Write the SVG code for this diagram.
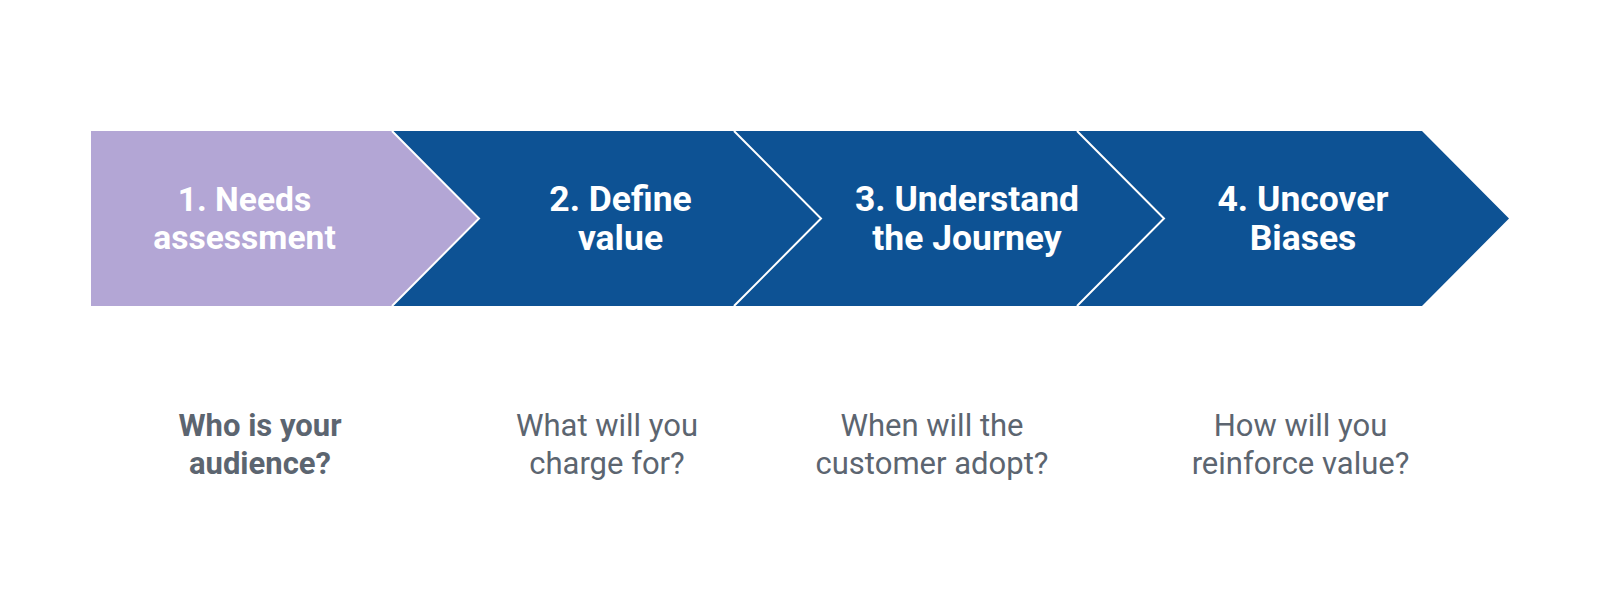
<svg xmlns="http://www.w3.org/2000/svg" width="1600" height="596" viewBox="0 0 1600 596">
<style>
.bg{fill:#ffffff}
.purple{fill:#B3A6D5}
.blue{fill:#0D5294}
.sep{fill:none;stroke:#ffffff;stroke-width:2}
.head{font-family:Roboto,"Liberation Sans",sans-serif;font-weight:bold;font-size:35.5px;fill:#ffffff;text-anchor:middle}
.head1{font-size:33.6px}
.sub{font-family:Roboto,"Liberation Sans",sans-serif;font-size:31px;fill:#5C6570;text-anchor:middle}
.subb{font-family:Roboto,"Liberation Sans",sans-serif;font-weight:bold;font-size:31px;fill:#5C6570;text-anchor:middle}
</style>
<rect class="bg" x="0" y="0" width="1600" height="596"/>
<g id="step4">
<polygon class="blue" points="1077,131 1422,131 1509,218.5 1422,306 1077,306 1164,218.5"/>
<text class="head" x="1303" y="211">4. Uncover</text>
<text class="head" x="1303" y="250">Biases</text>
</g>
<g id="step3">
<polygon class="blue" points="734,131 1077,131 1164,218.5 1077,306 734,306 821,218.5"/>
<text class="head" x="967" y="211">3. Understand</text>
<text class="head" x="967" y="250">the Journey</text>
</g>
<g id="step2">
<polygon class="blue" points="392,131 734,131 821,218.5 734,306 392,306 479,218.5"/>
<text class="head" x="620.5" y="211">2. Define</text>
<text class="head" x="620.5" y="250">value</text>
</g>
<g id="step1">
<polygon class="purple" points="91,131 392,131 479,218.5 392,306 91,306"/>
<text class="head head1" x="244.5" y="210.5">1. Needs</text>
<text class="head head1" x="244.5" y="249.3">assessment</text>
</g>
<g id="connectors">
<polyline class="sep" points="392,131 479,218.5 392,306"/>
<polyline class="sep" points="734,131 821,218.5 734,306"/>
<polyline class="sep" points="1077,131 1164,218.5 1077,306"/>
</g>
<g id="q1">
<text class="subb" x="260" y="436">Who is your</text>
<text class="subb" x="260" y="473.5">audience?</text>
</g>
<g id="q2">
<text class="sub" x="607" y="436">What will you</text>
<text class="sub" x="607" y="473.5">charge for?</text>
</g>
<g id="q3">
<text class="sub" x="932" y="436">When will the</text>
<text class="sub" x="932" y="473.5">customer adopt?</text>
</g>
<g id="q4">
<text class="sub" x="1300.5" y="436">How will you</text>
<text class="sub" x="1300.5" y="473.5">reinforce value?</text>
</g>
</svg>
